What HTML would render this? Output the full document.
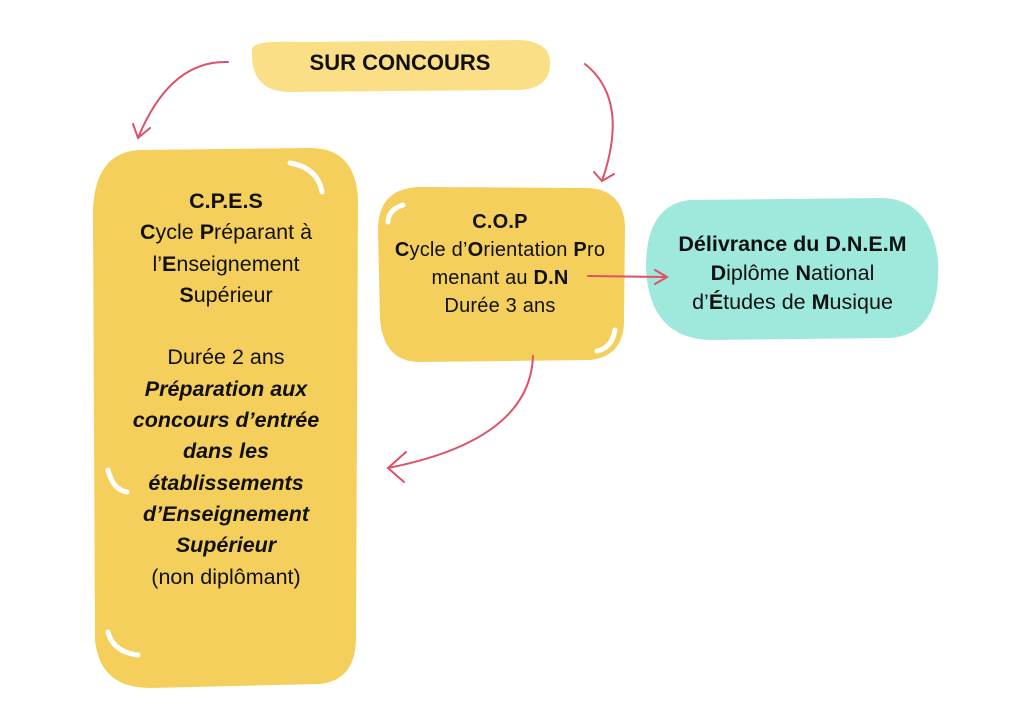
<!DOCTYPE html>
<html><head><meta charset="utf-8"><style>
body{margin:0;width:1024px;height:724px;background:#fff;position:relative;overflow:hidden;font-family:"Liberation Sans",sans-serif;color:#111}
.box{position:absolute;text-align:center;white-space:nowrap}
b{font-weight:bold}
</style></head><body>
<svg width="1024" height="724" style="position:absolute;left:0;top:0">
<path d="M252 50 Q250 40 300 42 L520 40 Q552 42 550 66 Q548 92 510 90 L290 92 Q250 92 252 50Z" fill="#fbdf86"/>
<path d="M140 150 Q95 152 93 210 L95 640 Q100 688 150 688 L320 684 Q355 680 356 640 L358 200 Q356 148 310 148Z" fill="#f5cf5c"/>
<path d="M420 187 Q378 188 378 230 L380 320 Q384 362 420 362 L590 360 Q625 356 624 318 L625 225 Q622 188 585 188Z" fill="#f5cf5c"/>
<path d="M690 200 Q645 205 646 270 Q650 338 710 340 L890 338 Q942 334 938 260 Q930 198 880 198Z" fill="#9ee8dc"/>
<g fill="none" stroke="#fff" stroke-width="5" stroke-linecap="round">
<path d="M290 163 Q318 168 322 192"/>
<path d="M403 205 Q388 210 388 222"/>
<path d="M615 330 Q612 348 597 351"/>
<path d="M108 470 Q113 490 127 492"/>
<path d="M108 632 Q113 652 138 655"/>
</g>
<g fill="none" stroke="#e0506a" stroke-width="2" stroke-linecap="round">
<path d="M228 62 Q170 60 138 138"/><path d="M133 124 L138 138 L150 128"/>
<path d="M585 64 Q630 100 602 181"/><path d="M594 172 L602 181 L614 174"/>
<path d="M533 356 Q530 440 388 468"/><path d="M406 452 L388 468 L404 482"/>
<path d="M588 276 L665 277"/><path d="M655 270 L667 277 L655 284"/>
</g>
</svg>
<div class="box" style="left:250px;top:50px;width:300px;font-size:22px;font-weight:bold">SUR CONCOURS</div>
<div class="box" style="left:92px;top:186px;width:268px;font-size:21.5px;line-height:31.3px">
<b>C.P.E.S</b><br><b>C</b>ycle <b>P</b>réparant à<br>l’<b>E</b>nseignement<br><b>S</b>upérieur<br><br>Durée 2 ans<br><b><i>Préparation aux<br>concours d’entrée<br>dans les<br>établissements<br>d’Enseignement<br>Supérieur</i></b><br>(non diplômant)</div>
<div class="box" style="left:375px;top:208px;width:250px;font-size:20px;line-height:28px;letter-spacing:0.2px">
<b>C.O.P</b><br><b>C</b>ycle d’<b>O</b>rientation <b>P</b>ro<br>menant au <b>D.N</b><br>Durée 3 ans</div>
<div class="box" style="left:645px;top:230px;width:295px;font-size:21.5px;line-height:29px">
<b>Délivrance du D.N.E.M</b><br><b>D</b>iplôme <b>N</b>ational<br>d’<b>É</b>tudes de <b>M</b>usique</div>
</body></html>
